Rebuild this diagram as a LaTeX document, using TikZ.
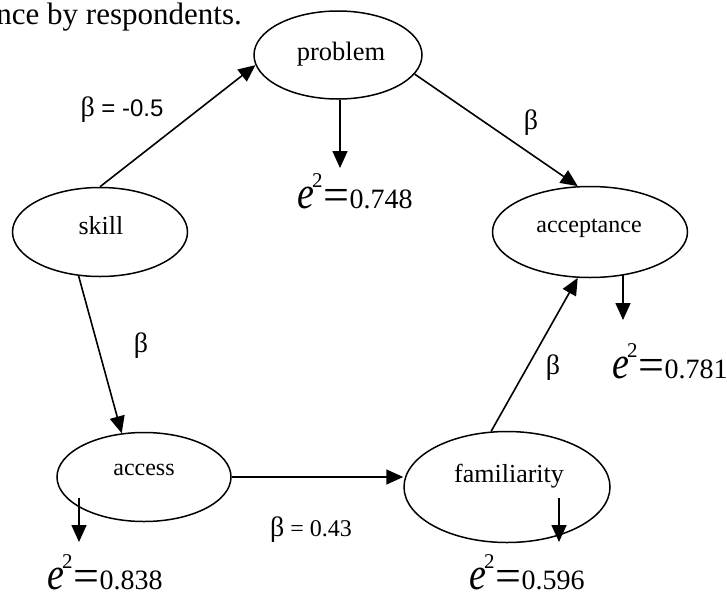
\documentclass[tikz,border=0pt]{standalone}
\usepackage{fontspec}
\setmainfont{Liberation Serif}
\newfontfamily\arialfont{Liberation Sans}
\usetikzlibrary{arrows.meta,shapes.geometric}
\newcommand\errlab[1]{\scalebox{1}[1.2]{\fontsize{38}{38}\selectfont\itshape e}\kern-2pt\raisebox{21pt}{\fontsize{21}{21}\selectfont 2}\kern1pt\raisebox{-2pt}{\fontsize{46}{46}\selectfont=}\kern0pt{\fontsize{28}{28}\selectfont #1}}
\newcommand\bigbeta{{\fontsize{28}{28}\selectfont β}}
\begin{document}
\begin{tikzpicture}[x=1pt,y=-1pt,
  ell/.style={draw,ellipse,line width=1.5pt,inner sep=0pt},
  arr/.style={line width=1.6pt,-{Triangle[length=17pt,width=15pt]}},
  lab/.style={inner sep=0pt},
  nlab/.style={inner sep=0pt,anchor=base},
  blab/.style={inner sep=0pt,font=\fontsize{24}{24}\selectfont}]
\useasboundingbox (0,0) rectangle (727,595);
% top text fragment
\node[lab,anchor=base east,font=\fontsize{31}{31}\selectfont] (toptext) at (242,24) {nce by respondents.};
% ellipses
\node[ell,minimum width=168pt,minimum height=88pt] (problem) at (338,55) {};
\node[ell,minimum width=175pt,minimum height=89pt] (skill) at (100,232) {};
\node[ell,minimum width=195pt,minimum height=91pt] (acceptance) at (590,232) {};
\node[ell,minimum width=174pt,minimum height=89pt] (access) at (144,477) {};
\node[ell,minimum width=206pt,minimum height=111pt] (familiarity) at (507,487) {};
% texts
\node[nlab,font=\fontsize{26.5}{26.5}\selectfont] (problemtext) at (341,60) {problem};
\node[nlab,font=\fontsize{26}{26}\selectfont] (skilltext) at (101,234) {skill};
\node[nlab,font=\fontsize{24}{24}\selectfont] (acceptancetext) at (589,232) {acceptance};
\node[nlab,font=\fontsize{24}{24}\selectfont] (accesstext) at (144,475) {access};
\node[nlab,font=\fontsize{26}{26}\selectfont] (familiaritytext) at (509,482) {familiarity};
% paths
\draw[arr] (skill.north) -- (problem.187);
\draw[arr] (problem.-14) -- (acceptance.105);
\draw[arr] (skill.244) -- (access.117);
\draw[arr] (access.east) -- (access.east -| familiarity.west);
\draw[arr] (familiarity.106) -- (acceptance.255);
% error arrows
\coordinate (pe) at (340,168);
\draw[arr] (problem.south -| pe) -- (pe);
\coordinate (ace) at (623,320);
\draw[arr] (acceptance.-52 -| ace) -- (ace);
\coordinate (ass) at (79,498);
\coordinate (ase) at (79,542);
\draw[arr] (ass) -- (ase);
\coordinate (fas) at (559,498);
\coordinate (fae) at (559,542);
\draw[arr] (fas) -- (fae);
% beta labels
\node[blab] (b1) at (122,110) {\bigbeta\arialfont{} = -0.5};
\node[blab] (b2) at (531,123) {\bigbeta};
\node[blab] (b3) at (141,346) {\bigbeta};
\node[blab] (b4) at (553,368) {\bigbeta};
\node[blab] (b5) at (311,530) {\bigbeta{} = 0.43};
% error labels
\node[lab,anchor=base west] (e1) at (297,208) {\errlab{0.748}};
\node[lab,anchor=base west] (e2) at (612,378) {\errlab{0.781}};
\node[lab,anchor=base west] (e3) at (47,589) {\errlab{0.838}};
\node[lab,anchor=base west] (e4) at (469,589) {\errlab{0.596}};
\end{tikzpicture}
\end{document}
